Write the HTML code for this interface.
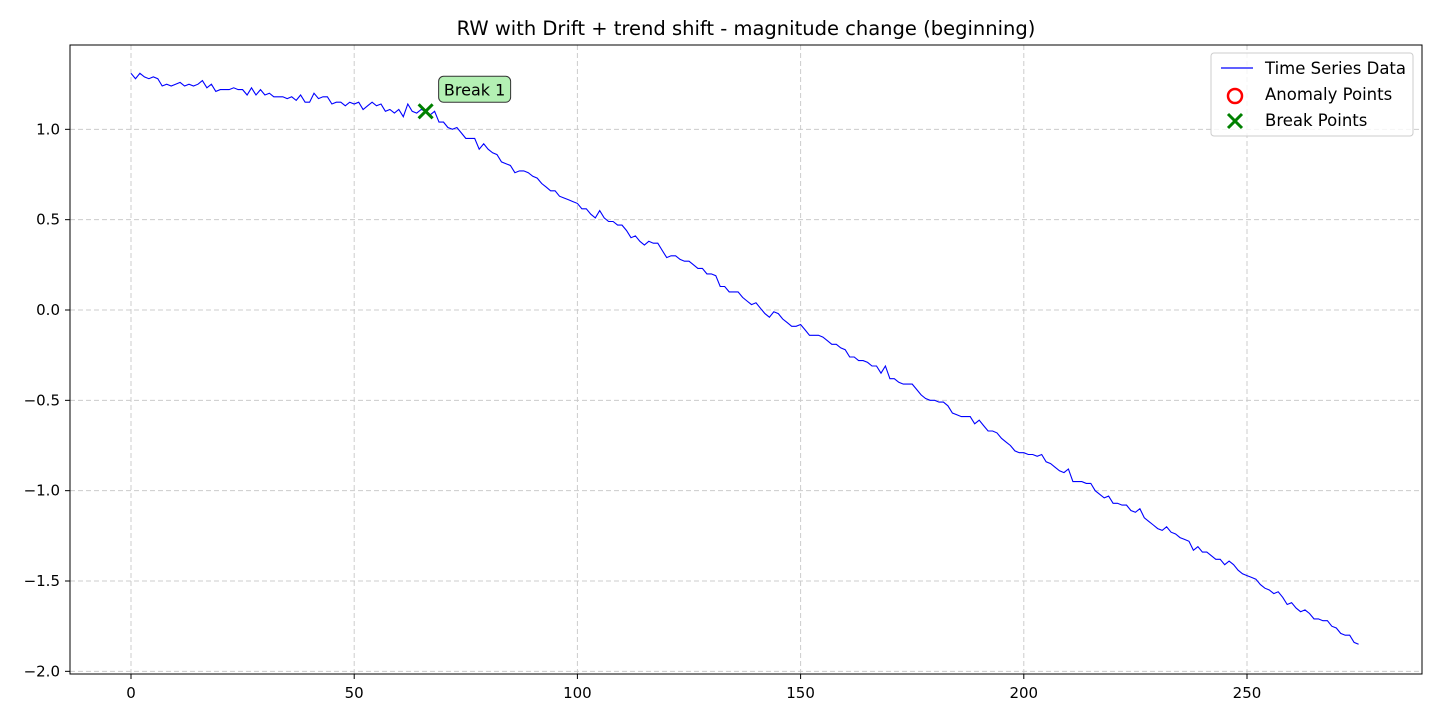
<!DOCTYPE html>
<html><head><meta charset="utf-8"><style>
html,body{margin:0;padding:0;background:#fff;}
svg{display:block;font-family:"DejaVu Sans","Liberation Sans",sans-serif;}
</style></head><body>
<svg id="chart" width="1440" height="720" viewBox="0 0 1440 720">
<rect width="1440" height="720" fill="#fff"/>
<text x="746" y="35" text-anchor="middle" font-size="19.5" fill="#000">RW with Drift + trend shift - magnitude change (beginning)</text>
<g id="grid"></g>
<g id="xticks"></g>
<g id="yticks"></g>
<g id="series"></g>
<rect x="70" y="45" width="1352" height="629" fill="none" stroke="#000" stroke-width="1"/>
<g id="legend">
<rect x="1211" y="53" width="202" height="83" rx="3" fill="#fff" fill-opacity="0.8" stroke="#ccc"/>
<line x1="1221" y1="68" x2="1253" y2="68" stroke="#0000ff" stroke-width="1.2"/>
<text x="1265" y="74" font-size="16.5">Time Series Data</text>
<circle cx="1235" cy="96" r="7" fill="none" stroke="#ff0000" stroke-width="2.5"/>
<text x="1265" y="100" font-size="16.5">Anomaly Points</text>
<path d="M1228 114 L1242 128 M1242 114 L1228 128" stroke="#008000" stroke-width="3"/>
<text x="1265" y="126" font-size="16.5">Break Points</text>
</g>
</svg>
<script>
const xs = Array.from({length:276},(_,i)=>i);
const values = [1.31,1.28,1.31,1.29,1.28,1.29,1.28,1.24,1.25,1.24,1.25,1.26,1.24,1.25,1.24,1.25,1.27,1.23,1.25,1.21,1.22,1.22,1.22,1.23,1.22,1.22,1.19,1.23,1.19,1.22,1.19,1.20,1.18,1.18,1.18,1.17,1.18,1.16,1.19,1.15,1.15,1.20,1.17,1.18,1.18,1.14,1.15,1.15,1.13,1.15,1.14,1.15,1.11,1.13,1.15,1.13,1.14,1.10,1.11,1.09,1.11,1.07,1.14,1.10,1.09,1.11,1.10,1.08,1.10,1.04,1.04,1.01,1.00,1.01,0.98,0.95,0.95,0.95,0.89,0.92,0.89,0.87,0.86,0.82,0.81,0.80,0.76,0.77,0.77,0.76,0.74,0.73,0.70,0.68,0.66,0.66,0.63,0.62,0.61,0.60,0.59,0.56,0.56,0.53,0.51,0.55,0.51,0.49,0.49,0.47,0.47,0.44,0.40,0.41,0.38,0.36,0.38,0.37,0.37,0.33,0.29,0.30,0.30,0.28,0.27,0.27,0.25,0.23,0.23,0.20,0.20,0.19,0.13,0.13,0.10,0.10,0.10,0.07,0.05,0.03,0.04,0.01,-0.02,-0.04,-0.01,-0.02,-0.05,-0.07,-0.09,-0.09,-0.08,-0.11,-0.14,-0.14,-0.14,-0.15,-0.17,-0.19,-0.19,-0.21,-0.22,-0.26,-0.26,-0.28,-0.28,-0.29,-0.31,-0.31,-0.35,-0.31,-0.38,-0.38,-0.40,-0.41,-0.41,-0.41,-0.44,-0.47,-0.49,-0.50,-0.50,-0.51,-0.51,-0.53,-0.57,-0.58,-0.59,-0.59,-0.59,-0.63,-0.61,-0.64,-0.67,-0.67,-0.68,-0.71,-0.73,-0.75,-0.78,-0.79,-0.79,-0.80,-0.80,-0.81,-0.80,-0.84,-0.85,-0.87,-0.89,-0.90,-0.88,-0.95,-0.95,-0.95,-0.96,-0.96,-1.00,-1.02,-1.04,-1.03,-1.07,-1.07,-1.08,-1.08,-1.11,-1.12,-1.10,-1.15,-1.17,-1.19,-1.21,-1.22,-1.20,-1.23,-1.24,-1.26,-1.27,-1.28,-1.33,-1.31,-1.34,-1.34,-1.36,-1.38,-1.38,-1.41,-1.39,-1.41,-1.44,-1.46,-1.47,-1.48,-1.49,-1.52,-1.54,-1.55,-1.57,-1.56,-1.59,-1.63,-1.62,-1.65,-1.67,-1.66,-1.68,-1.71,-1.71,-1.72,-1.72,-1.75,-1.76,-1.79,-1.80,-1.80,-1.84,-1.85];
const xTicks = [0,50,100,150,200,250];
const yTicks = [1.0,0.5,0.0,-0.5,-1.0,-1.5,-2.0];
const yTickLabels = ["1.0","0.5","0.0","\u22120.5","\u22121.0","\u22121.5","\u22122.0"];
const breakIdx = [66];
const breakLabels = ["Break 1"];

const NS="http://www.w3.org/2000/svg";
const X = v => 131 + v*(1247-131)/250;
const Y = v => 310 - v*(671-129)/3;
function mk(tag, attrs, parent){const e=document.createElementNS(NS,tag);for(const k in attrs)e.setAttribute(k,attrs[k]);parent.appendChild(e);return e;}
const grid=document.getElementById('grid'), xt=document.getElementById('xticks'), yt=document.getElementById('yticks'), ser=document.getElementById('series');
xTicks.forEach(t=>{
  const g=mk('line',{x1:X(t),x2:X(t),y1:45,y2:674,stroke:'#ccc','stroke-dasharray':'5,3'},grid);
  
  
  mk('line',{x1:X(t),x2:X(t),y1:674,y2:679,stroke:'#000'},xt);
  const tx=mk('text',{x:X(t),y:698,'text-anchor':'middle','font-size':'15'},xt);
  tx.textContent=String(t);
  
  
});
yTicks.forEach((t,i)=>{
  const g=mk('line',{x1:70,x2:1422,y1:Y(t),y2:Y(t),stroke:'#ccc','stroke-dasharray':'5,3'},grid);
  
  
  mk('line',{x1:65,x2:70,y1:Y(t),y2:Y(t),stroke:'#000'},yt);
  const tx=mk('text',{x:60,y:Y(t)+5,'text-anchor':'end','font-size':'15'},yt);
  tx.textContent=yTickLabels[i];
  
  
});
const line=mk('polyline',{points:xs.map((x,i)=>X(x).toFixed(1)+','+Y(values[i]).toFixed(1)).join(' '),fill:'none',stroke:'#0000ff','stroke-width':'1.1'},ser);


breakIdx.forEach((b,i)=>{
  const cx=X(b), cy=Y(values[b]);
  const m=mk('path',{d:`M${cx-7} ${cy-7} L${cx+7} ${cy+7} M${cx+7} ${cy-7} L${cx-7} ${cy+7}`,stroke:'#008000','stroke-width':'3'},ser);
  
  
  const bx=mk('rect',{x:cx+13,y:cy-35,width:72,height:26,rx:5,fill:'#b3f0b3',stroke:'#333'},ser);
  
  
  const t=mk('text',{x:cx+49,y:cy-16,'text-anchor':'middle','font-size':'16'},ser);
  t.textContent=breakLabels[i];
  
  
});
</script>
</body></html>
